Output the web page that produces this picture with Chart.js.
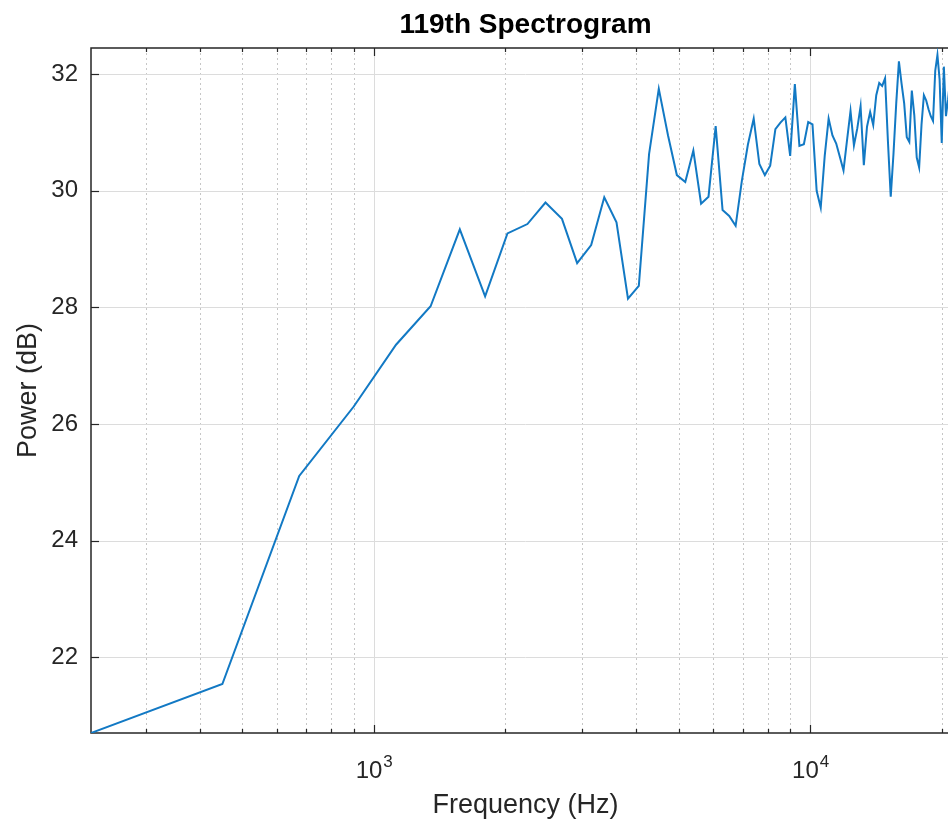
<!DOCTYPE html>
<html>
<head>
<meta charset="utf-8">
<script src="https://cdn.jsdelivr.net/npm/chart.js@4"></script>
<style>
  html, body { margin: 0; padding: 0; overflow: hidden; background: #ffffff; }
  canvas { display: block; }
</style>
</head>
<body>
<canvas id="c" width="960" height="825"></canvas>
<script>
const chartTitle = '119th Spectrogram';
const xAxisTitle = 'Frequency (Hz)';
const yAxisTitle = 'Power (dB)';

const frequencyHz = [
  225, 450, 675, 900, 1125, 1350, 1575, 1800, 2025, 2250,
  2475, 2700, 2925, 3150, 3375, 3600, 3825, 4050, 4275, 4500,
  4725, 4950, 5175, 5400, 5625, 5850, 6075, 6300, 6525, 6750,
  6975, 7200, 7425, 7650, 7875, 8100, 8325, 8550, 8775, 9000,
  9225, 9450, 9675, 9900, 10125, 10350, 10575, 10800, 11025, 11250,
  11475, 11700, 11925, 12150, 12375, 12600, 12825, 13050, 13275, 13500,
  13725, 13950, 14175, 14400, 14625, 14850, 15075, 15300, 15525, 15750,
  15975, 16200, 16425, 16650, 16875, 17100, 17325, 17550, 17775, 18000,
  18225, 18450, 18675, 18900, 19125, 19350, 19575, 19800, 20025, 20250,
  20475, 20700, 20925
];

const powerDb = [
  20.70, 21.54, 25.11, 26.30, 27.36, 28.02, 29.34, 28.19, 29.27, 29.43,
  29.80, 29.52, 28.76, 29.07, 29.89, 29.46, 28.15, 28.37, 30.63, 31.75,
  30.95, 30.27, 30.15, 30.69, 29.78, 29.90, 31.11, 29.67, 29.57, 29.40,
  30.17, 30.79, 31.24, 30.46, 30.27, 30.43, 31.06, 31.17, 31.26, 30.60,
  31.83, 30.77, 30.80, 31.18, 31.14, 30.00, 29.71, 30.60, 31.24, 30.95,
  30.81, 30.58, 30.35, 30.87, 31.37, 30.78, 31.07, 31.45, 30.44, 31.10,
  31.35, 31.13, 31.64, 31.85, 31.80, 31.93, 30.85, 29.90, 30.64, 31.50,
  32.22, 31.84, 31.50, 30.92, 30.84, 31.72, 31.30, 30.57, 30.40, 31.14,
  31.64, 31.55, 31.40, 31.28, 31.20, 32.06, 32.33, 31.91, 30.82, 32.13,
  31.28, 31.56, 31.90
];

const yTickValues = [22, 24, 26, 28, 30, 32];
const xMajorTickValues = [1000, 10000];
const xMajorTickBase = ['10', '10'];
const xMajorTickExp = ['3', '4'];
const xMinorTickValues = [300, 400, 500, 600, 700, 800, 900,
  2000, 3000, 4000, 5000, 6000, 7000, 8000, 9000, 20000];
const xRange = [225, 22050];
const yRange = [20.70, 32.45];

const FONT = '"Liberation Sans", Arial, Helvetica, sans-serif';
const AXIS_COLOR = '#262626';

const matlabAxes = {
  id: 'matlabAxes',
  beforeDatasetsDraw(chart) {
    const { ctx, chartArea: a, scales: { x, y } } = chart;
    const seg = (x1, y1, x2, y2) => { ctx.beginPath(); ctx.moveTo(x1, y1); ctx.lineTo(x2, y2); ctx.stroke(); };
    ctx.save();
    ctx.lineWidth = 1;
    // minor grid (dotted)
    ctx.strokeStyle = '#c6c6c6';
    ctx.setLineDash([2, 3]);
    xMinorTickValues.forEach(v => {
      const px = Math.round(x.getPixelForValue(v)) + 0.5;
      seg(px, a.top, px, a.bottom);
    });
    ctx.setLineDash([]);
    // major grid
    ctx.strokeStyle = '#dcdcdc';
    xMajorTickValues.forEach(v => {
      const px = Math.round(x.getPixelForValue(v)) + 0.5;
      seg(px, a.top, px, a.bottom);
    });
    yTickValues.forEach(v => {
      const py = Math.round(y.getPixelForValue(v)) + 0.5;
      seg(a.left, py, a.right, py);
    });
    // frame
    ctx.strokeStyle = AXIS_COLOR;
    ctx.lineWidth = 1.5;
    ctx.strokeRect(a.left, a.top, a.right - a.left, a.bottom - a.top);
    // tick marks (inward)
    ctx.lineWidth = 1.2;
    yTickValues.forEach(v => {
      const py = Math.round(y.getPixelForValue(v)) + 0.5;
      seg(a.left, py, a.left + 8, py);
      seg(a.right, py, a.right - 8, py);
    });
    xMajorTickValues.forEach(v => {
      const px = Math.round(x.getPixelForValue(v)) + 0.5;
      seg(px, a.bottom, px, a.bottom - 8);
      seg(px, a.top, px, a.top + 8);
    });
    xMinorTickValues.forEach(v => {
      const px = Math.round(x.getPixelForValue(v)) + 0.5;
      seg(px, a.bottom, px, a.bottom - 4);
      seg(px, a.top, px, a.top + 4);
    });
    ctx.restore();
  },
  afterDraw(chart) {
    const { ctx, chartArea: a, scales: { x } } = chart;
    ctx.save();
    // title
    ctx.fillStyle = '#000000';
    ctx.font = 'bold 28px ' + FONT;
    ctx.textAlign = 'center';
    ctx.textBaseline = 'alphabetic';
    ctx.fillText(chartTitle, (a.left + a.right) / 2, 33);
    // x tick labels with superscript exponent
    ctx.fillStyle = AXIS_COLOR;
    ctx.textAlign = 'left';
    xMajorTickValues.forEach((v, i) => {
      const px = x.getPixelForValue(v);
      ctx.font = '24px ' + FONT;
      const wb = ctx.measureText(xMajorTickBase[i]).width;
      ctx.font = '17px ' + FONT;
      const we = ctx.measureText(xMajorTickExp[i]).width;
      const x0 = px - (wb + we) / 2;
      ctx.font = '24px ' + FONT;
      ctx.fillText(xMajorTickBase[i], x0, a.bottom + 45);
      ctx.font = '17px ' + FONT;
      ctx.fillText(xMajorTickExp[i], x0 + wb + 1, a.bottom + 34);
    });
    ctx.restore();
  }
};

new Chart(document.getElementById('c'), {
  type: 'line',
  data: {
    datasets: [{
      data: frequencyHz.map((f, i) => ({ x: f, y: powerDb[i] })),
      borderColor: '#1279c4',
      borderWidth: 2,
      pointRadius: 0,
      tension: 0,
      fill: false
    }]
  },
  options: {
    responsive: false,
    animation: false,
    devicePixelRatio: 1,
    layout: { padding: { top: 48, left: 0, right: 0, bottom: 0 } },
    plugins: {
      legend: { display: false },
      title: { display: false },
      tooltip: { enabled: false }
    },
    scales: {
      x: {
        type: 'logarithmic',
        min: xRange[0],
        max: xRange[1],
        grid: { display: false, drawTicks: false },
        border: { display: false },
        ticks: { display: false },
        title: {
          display: true, text: xAxisTitle, color: AXIS_COLOR,
          font: { family: FONT, size: 27 }, padding: { top: 0, bottom: 3 }
        },
        afterFit(s) { s.height = 92; }
      },
      y: {
        type: 'linear',
        min: yRange[0],
        max: yRange[1],
        afterBuildTicks(s) { s.ticks = yTickValues.map(v => ({ value: v })); },
        grid: { display: false, drawTicks: false },
        border: { display: false },
        ticks: { font: { family: FONT, size: 24 }, color: AXIS_COLOR, padding: 13 },
        title: {
          display: true, text: yAxisTitle, color: AXIS_COLOR,
          font: { family: FONT, size: 27 }, padding: { top: 12, bottom: 0 }
        },
        afterFit(s) { s.width = 91; }
      }
    }
  },
  plugins: [matlabAxes]
});
</script>
</body>
</html>
